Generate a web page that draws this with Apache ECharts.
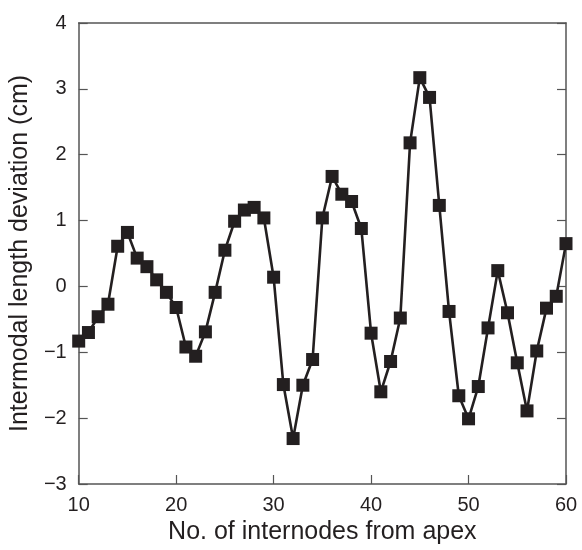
<!DOCTYPE html>
<html>
<head>
<meta charset="utf-8">
<script src="https://cdn.jsdelivr.net/npm/echarts@6/dist/echarts.min.js"></script>
<style>html,body{margin:0;padding:0;background:#fff}#c{width:582px;height:550px}</style>
</head>
<body>
<div id="c"></div>
<script>
const internodes = [10,11,12,13,14,15,16,17,18,19,20,21,22,23,24,25,26,27,28,29,30,31,32,33,34,35,36,37,38,39,40,41,42,43,44,45,46,47,48,49,50,51,52,53,54,55,56,57,58,59,60];
const deviation = [-0.83,-0.70,-0.46,-0.27,0.61,0.82,0.43,0.30,0.10,-0.09,-0.32,-0.92,-1.06,-0.69,-0.09,0.55,0.99,1.16,1.20,1.04,0.14,-1.49,-2.31,-1.50,-1.11,1.04,1.67,1.40,1.29,0.88,-0.71,-1.60,-1.14,-0.48,2.18,3.17,2.87,1.23,-0.38,-1.66,-2.01,-1.52,-0.63,0.24,-0.40,-1.16,-1.89,-0.98,-0.33,-0.15,0.65];
const xTicks = [10,20,30,40,50,60];
const yTicks = [-3,-2,-1,0,1,2,3,4];

const frame = '#555';
const font = '"Liberation Sans", Arial, Helvetica, sans-serif';
const fmt = v => String(v).replace('-', '\u2212');

const chart = echarts.init(document.getElementById('c'), null, {renderer:'canvas'});
chart.setOption({
  animation: false,
  backgroundColor: '#fff',
  grid: {left: 76, right: 16, top: 23, bottom: 61, containLabel: false},
  xAxis: [{
    type: 'value', min: xTicks[0], max: xTicks[xTicks.length-1], interval: 10,
    name: 'No. of internodes from apex', nameLocation: 'middle', nameGap: 36,
    nameTextStyle: {fontFamily: font, fontSize: 25, color: '#231f20'},
    axisLine: {show: true, onZero: false, lineStyle: {color: frame, width: 1.5}},
    axisTick: {show: true, inside: true, length: 9, lineStyle: {color: frame, width: 1.2}},
    axisLabel: {fontFamily: font, fontSize: 20, color: '#231f20', margin: 11, formatter: fmt},
    splitLine: {show: false}
  },{
    type: 'value', min: xTicks[0], max: xTicks[xTicks.length-1], interval: 10, position: 'top',
    axisLine: {show: true, onZero: false, lineStyle: {color: frame, width: 1.5}},
    axisTick: {show: false}, axisLabel: {show: false}, splitLine: {show: false}
  }],
  yAxis: [{
    type: 'value', min: yTicks[0], max: yTicks[yTicks.length-1], interval: 1,
    name: 'Intermodal length deviation (cm)', nameLocation: 'middle', nameGap: 38,
    nameTextStyle: {fontFamily: font, fontSize: 25, color: '#231f20'},
    axisLine: {show: true, onZero: false, lineStyle: {color: frame, width: 1.5}},
    axisTick: {show: true, inside: true, length: 9, lineStyle: {color: frame, width: 1.2}},
    axisLabel: {fontFamily: font, fontSize: 20, color: '#231f20', margin: 12, formatter: fmt},
    splitLine: {show: false}
  },{
    type: 'value', min: yTicks[0], max: yTicks[yTicks.length-1], interval: 1, position: 'right',
    axisLine: {show: true, onZero: false, lineStyle: {color: frame, width: 1.5}},
    axisTick: {show: true, inside: true, length: 9, lineStyle: {color: frame, width: 1.2}},
    axisLabel: {show: false}, splitLine: {show: false}
  }],
  series: [{
    type: 'line',
    data: internodes.map((x, i) => [x, deviation[i]]),
    symbol: 'rect', symbolSize: 13,
    itemStyle: {color: '#231f20'},
    lineStyle: {color: '#231f20', width: 2.6},
    clip: false
  }]
});
</script>
</body>
</html>
